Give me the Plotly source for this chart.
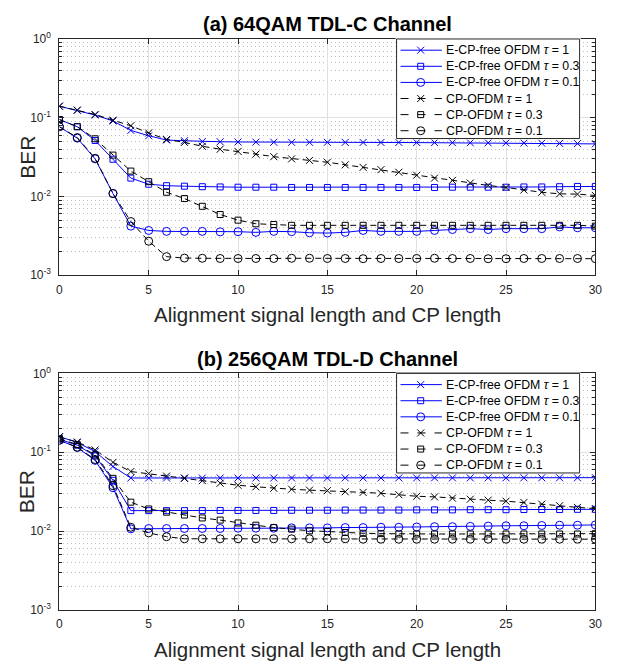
import plotly.graph_objects as go

x = list(range(31))

# (a) 64QAM TDL-C
a_ecp_t1 = [0.14, 0.124, 0.108, 0.091, 0.069, 0.059, 0.052, 0.051, 0.0498, 0.0495, 0.0492,
            0.049, 0.0488, 0.0487, 0.0487, 0.0487, 0.0486, 0.0485, 0.0485, 0.0485, 0.0484,
            0.0483, 0.0482, 0.0481, 0.048, 0.0479, 0.0477, 0.0475, 0.0472, 0.0469, 0.0465]
a_ecp_t03 = [0.0946, 0.0768, 0.0514, 0.0297, 0.0171, 0.0143, 0.0137, 0.0135, 0.0133, 0.0132, 0.0131,
             0.0131, 0.0131, 0.013, 0.013, 0.013, 0.013, 0.013, 0.013, 0.013, 0.013,
             0.013, 0.0131, 0.0131, 0.0131, 0.0131, 0.0132, 0.0132, 0.0133, 0.0134, 0.0134]
a_ecp_t01 = [0.0767, 0.055, 0.030, 0.0109, 0.0042, 0.0037, 0.0036, 0.0036, 0.0036, 0.00355, 0.00357,
             0.0035, 0.0036, 0.00357, 0.00346, 0.00343, 0.0035, 0.0037, 0.0036, 0.0036, 0.0036,
             0.0037, 0.0038, 0.0039, 0.0038, 0.0039, 0.0039, 0.0039, 0.0041, 0.0040, 0.0040]
a_cp_t1 = [0.14, 0.125, 0.11, 0.093, 0.079, 0.064, 0.053, 0.0486, 0.0434, 0.0398, 0.0373,
           0.0345, 0.032, 0.030, 0.0287, 0.0272, 0.0252, 0.0234, 0.0219, 0.0203, 0.0186,
           0.0171, 0.016, 0.0148, 0.0138, 0.013, 0.0121, 0.0113, 0.0108, 0.0107, 0.0103]
a_cp_t03 = [0.095, 0.077, 0.054, 0.0335, 0.021, 0.0154, 0.0113, 0.0094, 0.0075, 0.0059, 0.0050,
            0.0045, 0.0044, 0.0043, 0.0043, 0.0043, 0.0043, 0.0043, 0.0043, 0.0043, 0.0043,
            0.0043, 0.0043, 0.0043, 0.0043, 0.0043, 0.0043, 0.0043, 0.0043, 0.0043, 0.0042]
a_cp_t01 = [0.077, 0.056, 0.0305, 0.0109, 0.0048, 0.0027, 0.00172, 0.00165, 0.00164, 0.00163, 0.00163,
            0.00163, 0.00163, 0.00164, 0.00164, 0.00163, 0.00163, 0.00162, 0.00163, 0.00163, 0.00163,
            0.00164, 0.00163, 0.00163, 0.00162, 0.00162, 0.00163, 0.00163, 0.00163, 0.00163, 0.00162]

# (b) 256QAM TDL-D
b_ecp_t1 = [0.158, 0.133, 0.102, 0.066, 0.0472, 0.0472, 0.0472, 0.0472, 0.0472, 0.0472, 0.0472,
            0.0472, 0.0472, 0.0472, 0.0472, 0.0472, 0.0473, 0.0473, 0.0473, 0.0473, 0.0473,
            0.0474, 0.0474, 0.0474, 0.0474, 0.0474, 0.0475, 0.0475, 0.0475, 0.0475, 0.0476]
b_ecp_t03 = [0.146, 0.123, 0.090, 0.0441, 0.0182, 0.0182, 0.0182, 0.0182, 0.0182, 0.0183, 0.0183,
             0.0183, 0.0183, 0.0184, 0.0184, 0.0184, 0.0185, 0.0185, 0.0185, 0.0185, 0.0186,
             0.0186, 0.0186, 0.0187, 0.0187, 0.0187, 0.0188, 0.0188, 0.0188, 0.0189, 0.0189]
b_ecp_t01 = [0.142, 0.115, 0.079, 0.0355, 0.0107, 0.0108, 0.0108, 0.0108, 0.0108, 0.0108, 0.0109,
             0.0109, 0.0109, 0.011, 0.011, 0.011, 0.0111, 0.0111, 0.0112, 0.0112, 0.0113,
             0.0114, 0.0114, 0.0115, 0.0116, 0.0117, 0.0117, 0.0118, 0.0119, 0.0119, 0.012]
b_cp_t1 = [0.156, 0.135, 0.107, 0.0745, 0.057, 0.0538, 0.050, 0.0467, 0.0437, 0.0405, 0.0382,
           0.0365, 0.035, 0.034, 0.0331, 0.0326, 0.0316, 0.031, 0.0302, 0.029, 0.0277,
           0.0272, 0.0262, 0.0254, 0.0247, 0.024, 0.0231, 0.022, 0.021, 0.020, 0.0193]
b_cp_t03 = [0.149, 0.125, 0.0927, 0.0467, 0.0233, 0.0191, 0.0174, 0.016, 0.0147, 0.0138, 0.0127,
            0.0119, 0.0111, 0.0106, 0.0101, 0.0099, 0.0096, 0.0094, 0.0093, 0.0092, 0.0092,
            0.0092, 0.0092, 0.0092, 0.0092, 0.0092, 0.0092, 0.0092, 0.0092, 0.0092, 0.0093]
b_cp_t01 = [0.142, 0.116, 0.081, 0.0376, 0.0112, 0.0095, 0.0085, 0.0080, 0.0080, 0.0080, 0.0080,
            0.0080, 0.0080, 0.0080, 0.0080, 0.0080, 0.0080, 0.0079, 0.0079, 0.0079, 0.0079,
            0.0079, 0.0079, 0.0079, 0.0079, 0.0079, 0.0079, 0.0079, 0.0079, 0.0079, 0.0079]

names = ["E-CP-free OFDM <i>τ</i> = 1", "E-CP-free OFDM <i>τ</i> = 0.3", "E-CP-free OFDM <i>τ</i> = 0.1",
         "CP-OFDM <i>τ</i> = 1", "CP-OFDM <i>τ</i> = 0.3", "CP-OFDM <i>τ</i> = 0.1"]
titles = ["<b>(a) 64QAM TDL-C Channel</b>", "<b>(b) 256QAM TDL-D Channel</b>"]
xlabel = "Alignment signal length and CP length"
ylabel = "BER"
ytickvals = [1e-3, 1e-2, 1e-1, 1]
yticktext = ["10<sup>-3</sup>", "10<sup>-2</sup>", "10<sup>-1</sup>", "10<sup>0</sup>"]

panels = [[a_ecp_t1, a_ecp_t03, a_ecp_t01, a_cp_t1, a_cp_t03, a_cp_t01],
          [b_ecp_t1, b_ecp_t03, b_ecp_t01, b_cp_t1, b_cp_t03, b_cp_t01]]

BLUE = "#0000ff"
BLACK = "#000000"
DASH = "6px,4px"
styles = [
    (BLUE, "solid", "x-thin", 7),
    (BLUE, "solid", "square-open", 6),
    (BLUE, "solid", "circle-open", 8),
    (BLACK, DASH, "x-thin", 7),
    (BLACK, DASH, "square-open", 6),
    (BLACK, DASH, "circle-open", 8),
]

W, H = 624, 671
x0p, x1p = 57.3, 602
doms = [(30.7, 272.7), (373.3, 615.7)]
FONT = "Liberation Sans, Arial, Helvetica, sans-serif"
axis_col = "#262626"

# legend box geometry (pixels)
LX0, LX1, LH = 400, 586, 102
row_y = [11.5 + 16.5 * i for i in range(6)]

fig = go.Figure()
for p, series in enumerate(panels):
    xa = "x" if p == 0 else "x2"
    ya = "y" if p == 0 else "y2"
    for s, (vals, (c, dash, sym, sz)) in enumerate(zip(series, styles)):
        fig.add_trace(go.Scatter(
            x=x, y=vals, mode="lines+markers", name=names[s], showlegend=False,
            line=dict(color=c, width=1, dash=dash),
            marker=dict(symbol=sym, size=sz, color=c, line=dict(color=c, width=1)),
            xaxis=xa, yaxis=ya))

# legends drawn on helper axes (pixel units inside the legend box)
ann = []
for p, (top, bot) in enumerate(doms):
    hx = "x%d" % (p + 3)
    hy = "y%d" % (p + 3)
    fig.add_trace(go.Scatter(
        x=[0, LX1 - LX0, LX1 - LX0, 0, 0], y=[0, 0, LH, LH, 0], mode="lines",
        fill="toself", fillcolor="white", line=dict(color=axis_col, width=1),
        showlegend=False, hoverinfo="skip", xaxis=hx, yaxis=hy))
    for s, (c, dash, sym, sz) in enumerate(styles):
        ldash = "solid" if dash == "solid" else "8px,9px,8px,9px"
        fig.add_trace(go.Scatter(
            x=[4, 46], y=[row_y[s], row_y[s]], mode="lines",
            line=dict(color=c, width=1, dash=ldash),
            showlegend=False, hoverinfo="skip", xaxis=hx, yaxis=hy))
        fig.add_trace(go.Scatter(
            x=[24.5], y=[row_y[s]], mode="markers",
            marker=dict(symbol=sym, size=sz, color=c, line=dict(color=c, width=1)),
            showlegend=False, hoverinfo="skip", xaxis=hx, yaxis=hy))
        ann.append(dict(text=names[s], x=48, y=row_y[s], xref=hx, yref=hy,
                        showarrow=False, xanchor="left", yanchor="middle",
                        font=dict(size=12.3, color="#000000", family=FONT)))

minor_vals = [m * 10 ** e for e in (-3, -2, -1) for m in range(2, 10)]
tickfont = dict(family=FONT, size=12, color=axis_col)

layout = dict(
    width=W, height=H, margin=dict(l=0, r=0, t=0, b=0),
    paper_bgcolor="white", plot_bgcolor="white", showlegend=False,
    font=dict(family=FONT, color=axis_col),
)
for p, (top, bot) in enumerate(doms):
    sfx = "" if p == 0 else "2"
    layout["xaxis" + sfx] = dict(
        domain=[x0p / W, x1p / W], range=[0, 30], dtick=5, tick0=0,
        showgrid=True, gridcolor="#e0e0e0", gridwidth=1,
        showline=True, linecolor=axis_col, linewidth=1, mirror="allticks",
        ticks="inside", ticklen=5, tickcolor=axis_col, tickfont=tickfont,
        ticklabelstandoff=3, zeroline=False, anchor="y" + sfx)
    layout["yaxis" + sfx] = dict(
        domain=[1 - bot / H, 1 - top / H], type="log", range=[-3, 0],
        tickmode="array", tickvals=ytickvals, ticktext=yticktext,
        showgrid=True, gridcolor="#e0e0e0", gridwidth=1,
        minor=dict(tickmode="array", tickvals=minor_vals, showgrid=True,
                   gridcolor="#bdbdbd", griddash="1px,3px", gridwidth=1,
                   ticks="inside", ticklen=3, tickcolor=axis_col),
        showline=True, linecolor=axis_col, linewidth=1, mirror="allticks",
        ticks="inside", ticklen=5, tickcolor=axis_col, tickfont=tickfont,
        ticklabelstandoff=5, zeroline=False, anchor="x" + sfx)
    hs = str(p + 3)
    layout["xaxis" + hs] = dict(
        domain=[(LX0 - 1) / W, (LX1 + 1) / W], range=[-1, LX1 - LX0 + 1],
        visible=False, fixedrange=True, anchor="y" + hs)
    layout["yaxis" + hs] = dict(
        domain=[1 - (top + LH + 1) / H, 1 - (top - 1) / H], range=[LH + 1, -1],
        visible=False, fixedrange=True, anchor="x" + hs)

fig.update_layout(**layout)

for p, (top, bot) in enumerate(doms):
    ann.append(dict(text=titles[p], x=(x0p + x1p) / 2 / W, y=1 - (top - 15) / H,
                    xref="paper", yref="paper", showarrow=False, xanchor="center", yanchor="middle",
                    font=dict(size=20, color="#000000", family=FONT)))
    ann.append(dict(text=xlabel, x=(x0p + x1p) / 2 / W, y=1 - (bot + 40) / H,
                    xref="paper", yref="paper", showarrow=False, xanchor="center", yanchor="middle",
                    font=dict(size=20.5, color=axis_col, family=FONT)))
    ann.append(dict(text=ylabel, x=24 / W, y=1 - (top + bot) / 2 / H, textangle=-90,
                    xref="paper", yref="paper", showarrow=False, xanchor="center", yanchor="middle",
                    font=dict(size=21, color=axis_col, family=FONT)))
fig.update_layout(annotations=ann)

fig.write_html("out.html")
